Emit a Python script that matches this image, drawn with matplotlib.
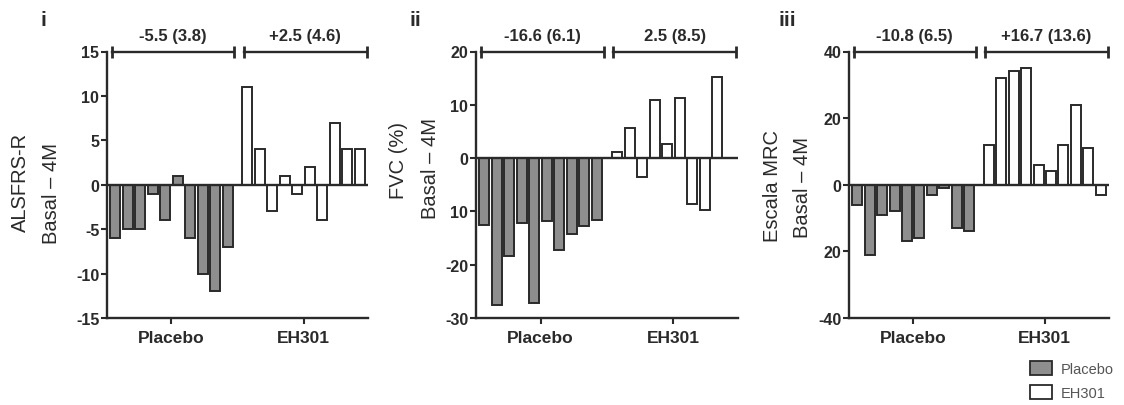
import numpy as np
import matplotlib
matplotlib.use("Agg")
import matplotlib.pyplot as plt
from matplotlib.patches import Patch

plt.rcParams['font.family'] = ['Liberation Sans', 'DejaVu Sans']

# ---- data: change from baseline to month 4, one bar per patient ----
groups = ["Placebo", "EH301"]

alsfrs_placebo = [-6, -5, -5, -1, -4, 1, -6, -10, -12, -7]
alsfrs_eh301 = [11, 4, -3, 1, -1, 2, -4, 7, 4, 4]

fvc_placebo = [-12.6, -27.5, -18.4, -12.2, -27.2, -11.8, -17.2, -14.2, -12.8, -11.6]
fvc_eh301 = [1.2, 5.6, -3.6, 10.9, 2.6, 11.3, -8.6, -9.8, 15.2, 0.0]

mrc_placebo = [-6, -21, -9, -8, -17, -16, -3, -1, -13, -14]
mrc_eh301 = [12, 32, 34, 35, 6, 4, 12, 24, 11, -3]

# group summaries: mean (SD)
alsfrs_summary = ["-5.5 (3.8)", "+2.5 (4.6)"]
fvc_summary = ["-16.6 (6.1)", "2.5 (8.5)"]
mrc_summary = ["-10.8 (6.5)", "+16.7 (13.6)"]

panel_tags = ["i", "ii", "iii"]
ylabels_top = ["ALSFRS-R", "FVC (%)", "Escala MRC"]
ylabel_bottom = "Basal \u2013 4M"

alsfrs_ticks = [15, 10, 5, 0, -5, -10, -15]
alsfrs_ticklabels = ["15", "10", "5", "0", "-5", "-10", "-15"]
fvc_ticks = [20, 10, 0, -10, -20, -30]
fvc_ticklabels = ["20", "10", "0", "10", "-20", "-30"]
mrc_ticks = [40, 20, 0, -20, -40]
mrc_ticklabels = ["40", "20", "0", "20", "-40"]

# ---- styling ----
W, H = 1124, 406
DPI = 100
ink = "#2a2a2a"
grey_fill = "#8e8e8e"
white_fill = "#ffffff"
bar_w = 0.8
group_gap = 1.6

panels = [
    dict(pl=alsfrs_placebo, eh=alsfrs_eh301, summ=alsfrs_summary,
         ticks=alsfrs_ticks, tlabels=alsfrs_ticklabels, ylim=(-15, 15),
         rect=(107, 52.5, 368, 319), lab1=(20, 182), lab2=(52, 194), tag=(43, 20)),
    dict(pl=fvc_placebo, eh=fvc_eh301, summ=fvc_summary,
         ticks=fvc_ticks, tlabels=fvc_ticklabels, ylim=(-30, 20),
         rect=(476, 52.5, 738, 319), lab1=(398, 161), lab2=(430, 169), tag=(415, 20)),
    dict(pl=mrc_placebo, eh=mrc_eh301, summ=mrc_summary,
         ticks=mrc_ticks, tlabels=mrc_ticklabels, ylim=(-40, 40),
         rect=(849, 52.5, 1109, 319), lab1=(772, 186), lab2=(802, 188), tag=(787, 20)),
]

fig = plt.figure(figsize=(W / DPI, H / DPI), dpi=DPI)

def fx(px):
    return px / W

def fy(py):
    return 1 - py / H

for i, p in enumerate(panels):
    x0, y0, x1, y1 = p["rect"]
    ax = fig.add_axes([fx(x0), fy(y1), fx(x1) - fx(x0), fy(y0) - fy(y1)])

    n_pl, n_eh = len(p["pl"]), len(p["eh"])
    pos_pl = np.arange(n_pl, dtype=float)
    pos_eh = pos_pl[-1] + group_gap + np.arange(n_eh, dtype=float)

    ax.bar(pos_pl, p["pl"], width=bar_w, color=grey_fill, edgecolor=ink,
           linewidth=1.4, zorder=2)
    ax.bar(pos_eh, p["eh"], width=bar_w, color=white_fill, edgecolor=ink,
           linewidth=1.4, zorder=2)
    ax.axhline(0, color=ink, linewidth=1.7, zorder=3)

    ax.set_xlim(-0.67, pos_eh[-1] + 0.67)
    ax.set_ylim(*p["ylim"])

    ax.set_yticks(p["ticks"])
    ax.set_yticklabels(p["tlabels"], fontsize=11.5, fontweight="bold", color=ink)
    ax.set_xticks([pos_pl.mean(), pos_eh.mean()])
    ax.set_xticklabels(groups, fontsize=12.5, fontweight="bold", color=ink)
    ax.tick_params(axis="y", length=4.5, width=1.5, color=ink, pad=1)
    ax.tick_params(axis="x", length=4, width=1.5, color=ink, pad=5)

    for s in ("top", "right"):
        ax.spines[s].set_visible(False)
    for s in ("left", "bottom"):
        ax.spines[s].set_linewidth(1.7)
        ax.spines[s].set_color(ink)

    # group brackets with mean (SD)
    ytop = p["ylim"][1]
    for (pos, txt) in ((pos_pl, p["summ"][0]), (pos_eh, p["summ"][1])):
        bx0, bx1 = pos[0] - 0.3, pos[-1] + 0.55
        ax.plot([bx0, bx1], [ytop, ytop], color=ink, linewidth=1.7,
                marker="|", markersize=8, markeredgewidth=2.0, clip_on=False)
        ax.annotate(txt, xy=((bx0 + bx1) / 2, ytop), xytext=(0, 11.5),
                    textcoords="offset points", ha="center", va="center",
                    fontsize=12, fontweight="bold", color=ink, annotation_clip=False)

    # axis titles and panel tags
    fig.text(fx(p["lab1"][0]), fy(p["lab1"][1]), ylabels_top[i], rotation=90,
             ha="center", va="center", fontsize=14.5, color=ink)
    fig.text(fx(p["lab2"][0]), fy(p["lab2"][1]), ylabel_bottom, rotation=90,
             ha="center", va="center", fontsize=14.5, color=ink)
    fig.text(fx(p["tag"][0]), fy(p["tag"][1]), panel_tags[i], ha="center",
             va="center", fontsize=15, fontweight="bold", color=ink)

handles = [Patch(facecolor=grey_fill, edgecolor=ink, linewidth=1.3, label=groups[0]),
           Patch(facecolor=white_fill, edgecolor=ink, linewidth=1.3, label=groups[1])]
fig.legend(handles=handles, loc="upper left", bbox_to_anchor=(fx(1030), fy(362)),
           frameon=False, fontsize=10.5, labelcolor="#555555", borderpad=0,
           borderaxespad=0, handlelength=1.5, handleheight=1.1, handletextpad=0.6,
           labelspacing=0.6)

fig.savefig("out.png", dpi=DPI)
